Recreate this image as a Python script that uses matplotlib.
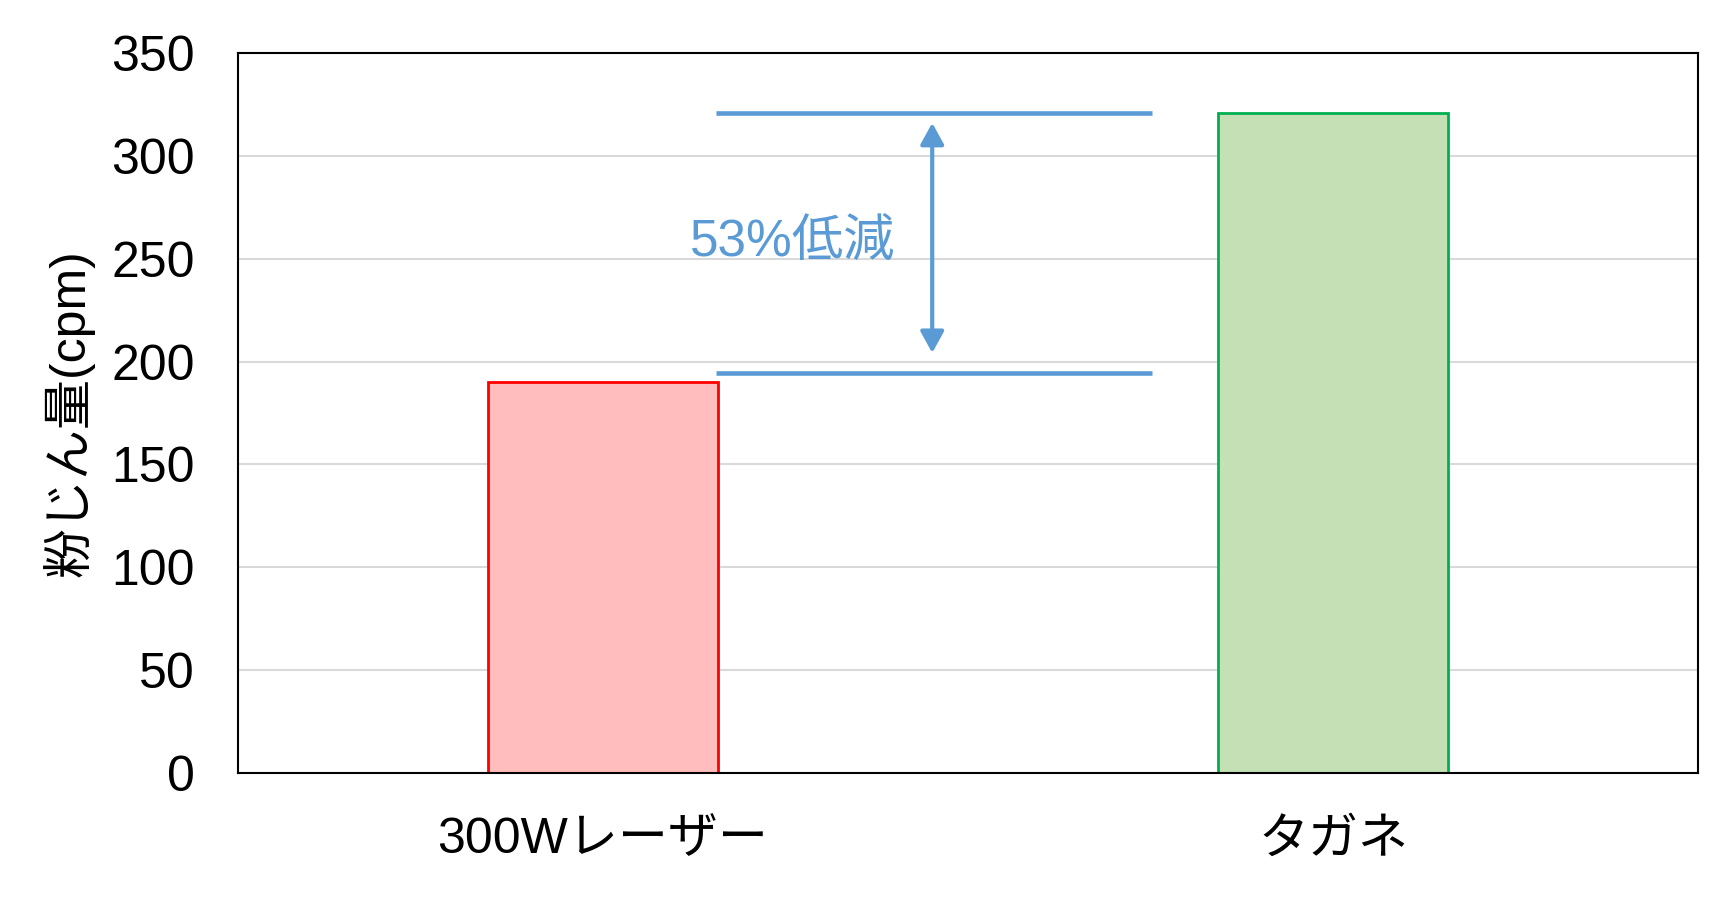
import matplotlib
matplotlib.use('Agg')
import matplotlib.pyplot as plt
from matplotlib.patches import FancyArrowPatch

plt.rcParams['font.family'] = ['Liberation Sans', 'Noto Sans CJK JP', 'DejaVu Sans']

# data
categories = ['300Wレーザー', 'タガネ']
values = [190, 321]
fill_colors = ['#FFBDBD', '#C5E0B4']
edge_colors = ['#FF0000', '#00B050']

y_ticks = [0, 50, 100, 150, 200, 250, 300, 350]
ylabel = '粉じん量(cpm)'

# reduction annotation
ref_top = 321
ref_bottom = 194.5
ref_x = [0.155, 0.752]
arrow_x = 0.451
arrow_y = [204.2, 316.0]
note_text = '53%低減'
note_pos = (0.26, 258.0)

blue = '#5B9BD5'

fig = plt.figure(figsize=(17.23, 8.98), dpi=100)
ax = fig.add_axes([0.1381, 0.1392, 0.8474, 0.8018])

x = list(range(len(categories)))
ax.bar(x, values, width=0.315, color=fill_colors, edgecolor=edge_colors,
       linewidth=2, zorder=3)

ax.set_xlim(-0.5, len(categories) - 0.5)
ax.set_ylim(0, 350)
ax.set_yticks(y_ticks)
ax.set_xticks(x)
ax.set_xticklabels(categories)
ax.tick_params(axis='both', length=0, labelsize=36)
ax.tick_params(axis='y', pad=31)
ax.tick_params(axis='x', pad=32)

ax.grid(axis='y', color='#D9D9D9', linewidth=1.5, zorder=0)
ax.set_axisbelow(True)
for s in ax.spines.values():
    s.set_color('black')
    s.set_linewidth(1.5)
    s.set_zorder(4)

ax.set_ylabel(ylabel, fontsize=36, labelpad=12)

# reference lines and arrow
ax.plot(ref_x, [ref_top, ref_top], color=blue, linewidth=3.3, zorder=5,
        solid_capstyle='butt')
ax.plot(ref_x, [ref_bottom, ref_bottom], color=blue, linewidth=3.3, zorder=5,
        solid_capstyle='butt')
arr = FancyArrowPatch((arrow_x, arrow_y[0]), (arrow_x, arrow_y[1]),
                      arrowstyle='<|-|>,head_length=1.0,head_width=0.55',
                      mutation_scale=13, color=blue, linewidth=3, zorder=5,
                      shrinkA=0, shrinkB=0)
ax.add_patch(arr)
ax.text(note_pos[0], note_pos[1], note_text, color=blue, fontsize=37,
        ha='center', va='center', zorder=6)

fig.savefig('out.png', dpi=100, facecolor='white')
